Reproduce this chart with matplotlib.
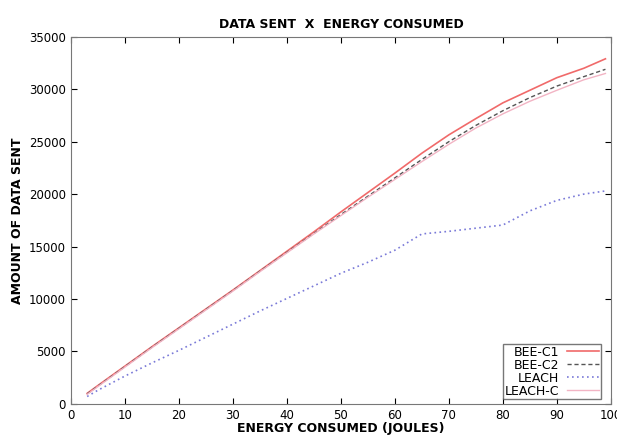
import numpy as np
import matplotlib.pyplot as plt

energy = [3, 5, 10, 15, 20, 25, 30, 35, 40, 45, 50, 55, 60, 65, 70, 75, 80, 85, 90, 95, 99]
bee_c1 = [1000, 1750, 3600, 5450, 7250, 9050, 10850, 12700, 14550, 16400, 18300, 20150, 22000,
          23900, 25650, 27200, 28700, 29900, 31100, 32000, 32900]
bee_c2 = [950, 1700, 3550, 5400, 7200, 9000, 10800, 12650, 14450, 16250, 18050, 19800, 21550,
          23300, 25000, 26550, 27950, 29200, 30300, 31200, 31900]
leach = [700, 1300, 2650, 3900, 5100, 6350, 7600, 8850, 10050, 11250, 12450, 13500, 14650,
         16200, 16450, 16750, 17050, 18400, 19400, 20000, 20300]
leach_c = [900, 1650, 3500, 5350, 7150, 8950, 10750, 12600, 14400, 16200, 17950, 19700, 21400,
           23100, 24750, 26300, 27650, 28850, 29900, 30900, 31500]

fig = plt.figure(figsize=(6.17, 4.38), dpi=100)
ax = fig.add_axes([0.115, 0.078, 0.875, 0.838])

ax.plot(energy, bee_c1, color='#f06a6a', lw=1.2, label='BEE-C1')
ax.plot(energy, bee_c2, color='#555555', lw=1.0, ls=(0, (3, 2)), label='BEE-C2')
ax.plot(energy, leach, color='#7a7ad8', lw=1.2, ls=(0, (1, 2)), label='LEACH')
ax.plot(energy, leach_c, color='#f2b4c4', lw=1.0, label='LEACH-C')

ax.set_xlim(0, 100)
ax.set_ylim(0, 35000)
ax.set_xticks(np.arange(0, 101, 10))
ax.set_yticks(np.arange(0, 35001, 5000))
ax.tick_params(direction='in', top=True, right=True, labelsize=8.5, length=4)
for s in ax.spines.values():
    s.set_color('#777777')

ax.set_title('DATA SENT  X  ENERGY CONSUMED', fontsize=9, fontweight='bold', pad=6)
ax.set_xlabel('ENERGY CONSUMED (JOULES)', fontsize=9, fontweight='bold', labelpad=0)
ax.set_ylabel('AMOUNT OF DATA SENT', fontsize=9, fontweight='bold', labelpad=4)

leg = ax.legend(loc='lower right', bbox_to_anchor=(0.982, 0.012), borderaxespad=0,
                markerfirst=False, fontsize=9, frameon=True, fancybox=False,
                borderpad=0.15, labelspacing=0.0, handlelength=2.6, handletextpad=0.6)
leg.get_frame().set_edgecolor('#555555')
for t in leg.get_texts():
    t.set_ha('right')

fig.savefig('out.png', dpi=100)
